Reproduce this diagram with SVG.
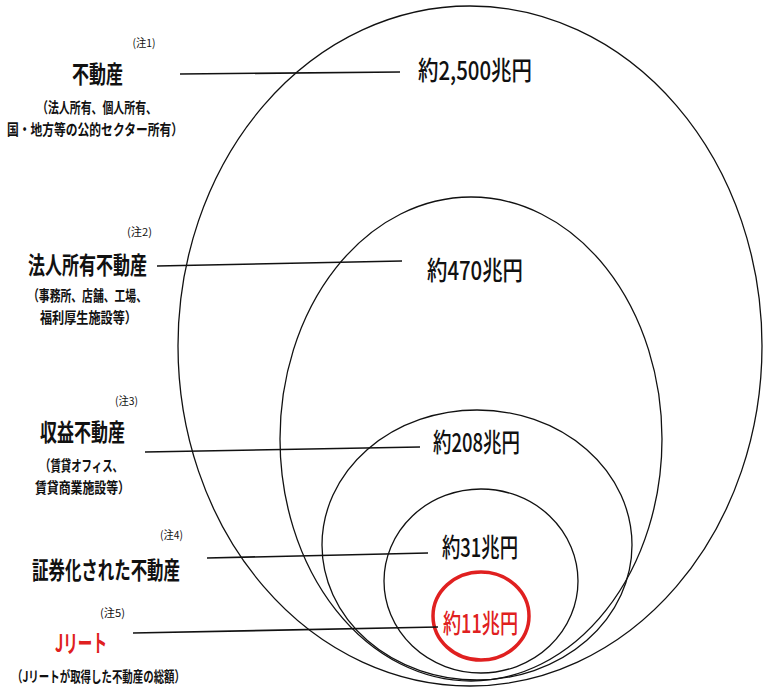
<svg xmlns="http://www.w3.org/2000/svg" width="769" height="687" viewBox="0 0 769 687">
<style>
text{font-family:"Noto Sans CJK JP","Noto Sans",sans-serif;text-anchor:middle;dominant-baseline:central;fill:#111}
.big{font-size:24px;font-weight:bold}
.sub{font-size:15px;font-weight:bold}
.note{font-size:11px}
.val{font-size:26px;font-weight:500}
.red{fill:#e02020}
.el{fill:none;stroke:#111;stroke-width:1.3}
.ln{stroke:#111;stroke-width:1.6}
</style>
<rect width="769" height="687" fill="#fff"/>
<g id="e-all"><ellipse class="el" cx="470" cy="346" rx="292" ry="340"/></g>
<g id="e-corp"><ellipse class="el" cx="471" cy="439" rx="191" ry="242"/></g>
<g id="e-income"><ellipse class="el" cx="477" cy="545" rx="155" ry="135"/></g>
<g id="e-sec"><ellipse class="el" cx="481" cy="581" rx="97" ry="92"/></g>
<g id="e-jreit"><ellipse cx="481" cy="616" rx="48" ry="44" fill="none" stroke="#e02020" stroke-width="3.5"/></g>
<g id="connectors">
<line class="ln" x1="180" y1="74" x2="400" y2="72"/>
<line class="ln" x1="157" y1="266" x2="402" y2="261"/>
<line class="ln" x1="145" y1="452" x2="420" y2="447"/>
<line class="ln" x1="207" y1="558" x2="428" y2="553"/>
<line class="ln" x1="133" y1="633" x2="438" y2="627"/>
</g>
<g id="n1">
<text class="note" x="144" y="42" textLength="23" lengthAdjust="spacingAndGlyphs">(注1)</text>
<text class="big" x="97.5" y="72" textLength="51" lengthAdjust="spacingAndGlyphs">不動産</text>
<text class="sub" x="97" y="106" textLength="120" lengthAdjust="spacingAndGlyphs">（法人所有、個人所有、</text>
<text class="sub" x="95" y="128" textLength="176" lengthAdjust="spacingAndGlyphs">国・地方等の公的セクター所有）</text>
<text class="val" x="475" y="68" textLength="114" lengthAdjust="spacingAndGlyphs">約2,500兆円</text>
</g>
<g id="n2">
<text class="note" x="139.5" y="231" textLength="25" lengthAdjust="spacingAndGlyphs">(注2)</text>
<text class="big" x="87.5" y="263" textLength="119" lengthAdjust="spacingAndGlyphs">法人所有不動産</text>
<text class="sub" x="87.5" y="294" textLength="119" lengthAdjust="spacingAndGlyphs">（事務所、店舗、工場、</text>
<text class="sub" x="88.5" y="316" textLength="97" lengthAdjust="spacingAndGlyphs">福利厚生施設等）</text>
<text class="val" x="475" y="268" textLength="96" lengthAdjust="spacingAndGlyphs">約470兆円</text>
</g>
<g id="n3">
<text class="note" x="126.5" y="400" textLength="23" lengthAdjust="spacingAndGlyphs">(注3)</text>
<text class="big" x="82.5" y="430" textLength="85" lengthAdjust="spacingAndGlyphs">収益不動産</text>
<text class="sub" x="81.5" y="464" textLength="83" lengthAdjust="spacingAndGlyphs">（賃貸オフィス、</text>
<text class="sub" x="82.5" y="486" textLength="95" lengthAdjust="spacingAndGlyphs">賃貸商業施設等）</text>
<text class="val" x="476.5" y="440" textLength="87" lengthAdjust="spacingAndGlyphs">約208兆円</text>
</g>
<g id="n4">
<text class="note" x="171.5" y="534" textLength="23" lengthAdjust="spacingAndGlyphs">(注4)</text>
<text class="big" x="106" y="568" textLength="148" lengthAdjust="spacingAndGlyphs">証券化された不動産</text>
<text class="val" x="480" y="545" textLength="76" lengthAdjust="spacingAndGlyphs">約31兆円</text>
</g>
<g id="n5">
<text class="note" x="112.5" y="612" textLength="25" lengthAdjust="spacingAndGlyphs">(注5)</text>
<text class="big red" x="81" y="641" textLength="52" lengthAdjust="spacingAndGlyphs">Jリート</text>
<text class="sub" x="98.5" y="675" textLength="173" lengthAdjust="spacingAndGlyphs">（Jリートが取得した不動産の総額）</text>
<text class="val red" x="480.5" y="621" textLength="75" lengthAdjust="spacingAndGlyphs">約11兆円</text>
</g>
</svg>
